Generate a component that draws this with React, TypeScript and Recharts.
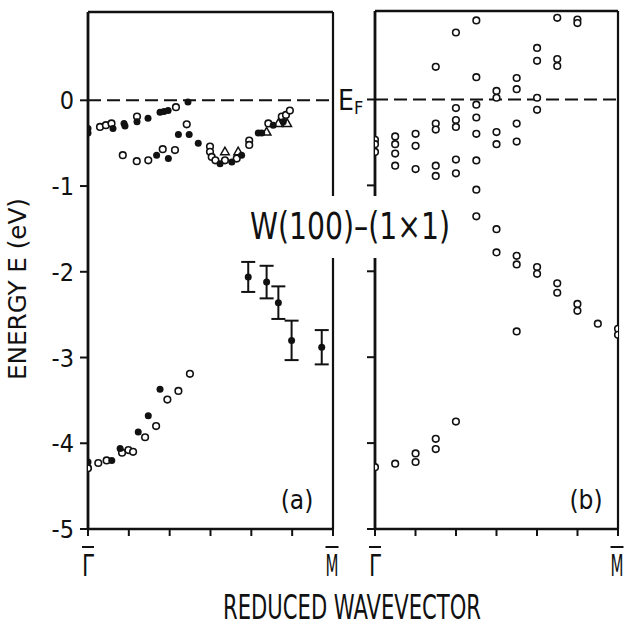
import React from "react";
import {
  ScatterChart,
  Scatter,
  XAxis,
  YAxis,
  ReferenceLine,
  ErrorBar,
} from "recharts";

// reduced wavevector k (0 = Γ̄, 1 = M̄) and energy E (eV)
type Pt = [number, number];

// panel (a) – band near E_F
const aUpperFilled: Pt[] = [
  [0, -0.33], [0, -0.38], [0.102, -0.33], [0.147, -0.27], [0.151, -0.3],
  [0.2, -0.25], [0.245, -0.21], [0.294, -0.14], [0.31, -0.13], [0.327, -0.12],
  [0.408, -0.02],
];
const aUpperOpen: Pt[] = [
  [0.049, -0.31], [0.073, -0.29], [0.096, -0.27], [0.2, -0.19], [0.359, -0.08],
];

// panel (a) – dispersive band around -0.7 eV
const aMidFilled: Pt[] = [
  [0.28, -0.64], [0.328, -0.68], [0.369, -0.4], [0.413, -0.4], [0.45, -0.5],
  [0.539, -0.74], [0.587, -0.72], [0.627, -0.64], [0.695, -0.38], [0.709, -0.38],
  [0.756, -0.29], [0.797, -0.25],
];
const aMidOpen: Pt[] = [
  [0.142, -0.64], [0.199, -0.71], [0.246, -0.7], [0.305, -0.57], [0.355, -0.58],
  [0.403, -0.28], [0.498, -0.54], [0.498, -0.6], [0.505, -0.66], [0.52, -0.7],
  [0.559, -0.7], [0.607, -0.68], [0.658, -0.47], [0.658, -0.52], [0.736, -0.27],
  [0.791, -0.19], [0.808, -0.17], [0.824, -0.12],
];
const aMidTri: Pt[] = [
  [0.559, -0.6], [0.613, -0.6], [0.729, -0.37], [0.777, -0.27], [0.813, -0.27],
];

// panel (a) – deep band
const aLowFilled: Pt[] = [
  [0, -4.22], [0.097, -4.2], [0.131, -4.06], [0.205, -3.87], [0.246, -3.68],
  [0.294, -3.37],
];
const aLowOpen: Pt[] = [
  [0, -4.29], [0.042, -4.23], [0.076, -4.2], [0.139, -4.11], [0.165, -4.08],
  [0.184, -4.1], [0.233, -3.93], [0.278, -3.8], [0.324, -3.49], [0.369, -3.39],
  [0.416, -3.19],
];

// panel (a) – points with error bars: k, E, ±err
const aErrK = [0.654, 0.729, 0.777, 0.831, 0.954];
const aErrE = [-2.06, -2.12, -2.36, -2.8, -2.88];
const aErrSize = [0.175, 0.19, 0.19, 0.23, 0.2];

// panel (b) – calculated bands, one column of energies per k
const bK = [0, 0.083, 0.167, 0.25, 0.333, 0.417, 0.5, 0.583, 0.667, 0.75, 0.833, 0.917, 1];
const bCols: number[][] = [
  [-0.47, -0.52, -0.61, -4.28],
  [-0.43, -0.52, -0.63, -0.77, -4.24],
  [-0.4, -0.54, -0.81, -4.12, -4.22],
  [0.38, -0.28, -0.35, -0.77, -0.89, -3.95, -4.07],
  [0.78, -0.1, -0.24, -0.32, -0.7, -0.86, -3.75],
  [0.92, 0.26, -0.06, -0.21, -0.4, -0.71, -1.05, -1.36],
  [0.1, 0.02, -0.38, -0.52, -1.51, -1.78],
  [0.25, 0.12, -0.28, -0.49, -1.82, -1.92, -2.7],
  [0.6, 0.45, 0.02, -0.12, -1.95, -2.03],
  [0.95, 0.47, 0.39, -2.14, -2.25],
  [0.93, 0.89, -2.38, -2.46],
  [-2.61],
  [-2.67, -2.74],
];

const X_TICKS = [0, 1 / 6, 2 / 6, 3 / 6, 4 / 6, 5 / 6, 1];
const Y_TICKS = [-5, -4, -3, -2, -1, 0];
const Y_DOMAIN: [number, number] = [-5, 1.03];

const FONT = "'DejaVu Sans Condensed', 'Liberation Sans Narrow', 'DejaVu Sans', sans-serif";
const INK = "#111";

const toRows = (pts: Pt[]) => pts.map(([k, e]) => ({ k, e }));
const errRows = aErrK.map((k, i) => ({ k, e: aErrE[i], err: aErrSize[i] }));
const bRows = bK.flatMap((k, i) => bCols[i].map((e) => ({ k, e })));

const openDot = (p: any) => (
  <circle cx={p.cx} cy={p.cy} r={3.3} fill="#fff" stroke={INK} strokeWidth={1.6} />
);
const fullDot = (p: any) => <circle cx={p.cx} cy={p.cy} r={3.5} fill={INK} />;
const triDot = (p: any) => (
  <polygon
    points={`${p.cx},${p.cy - 4.6} ${p.cx - 4.3},${p.cy + 3} ${p.cx + 4.3},${p.cy + 3}`}
    fill="#fff"
    stroke={INK}
    strokeWidth={1.5}
  />
);

// Γ̄ / M̄ under the ends of each panel; the bar is drawn as a short line
function KTick({ x, y, payload }: any) {
  const v = payload?.value;
  if (v !== 0 && v !== 1) return <g />;
  const w = v === 0 ? 12 : 13;
  const cx = v === 0 ? x : x - 1;
  return (
    <g>
      <line x1={cx - w / 2} x2={cx + w / 2} y1={y + 9} y2={y + 9} stroke={INK} strokeWidth={2} />
      <text
        x={cx}
        y={y}
        dy={38}
        textAnchor="middle"
        fontSize={30}
        fontFamily={FONT}
        fill={INK}
        textLength={w}
        lengthAdjust="spacingAndGlyphs"
      >
        {v === 0 ? "\u0393" : "M"}
      </text>
    </g>
  );
}

function ETick({ x, y, payload }: any) {
  return (
    <text x={x} y={y} dy="0.36em" textAnchor="end" fontSize={25} fontFamily={FONT} fill={INK}>
      {`${payload.value}`}
    </text>
  );
}

const axisStroke = { stroke: INK, strokeWidth: 2.4 };
const tickStroke = { stroke: INK, strokeWidth: 2 };

function Frame({ labels }: { labels: boolean }) {
  return [
    <XAxis
      key="xb"
      type="number"
      dataKey="k"
      domain={[0, 1]}
      ticks={X_TICKS}
      interval={0}
      height={50}
      tickSize={7}
      axisLine={axisStroke}
      tickLine={tickStroke}
      tick={<KTick />}
      allowDataOverflow
    />,
    <YAxis
      key="yl"
      type="number"
      dataKey="e"
      domain={Y_DOMAIN}
      ticks={Y_TICKS}
      interval={0}
      width={labels ? 60 : 30}
      tickSize={8}
      tickMargin={6}
      axisLine={{ stroke: INK, strokeWidth: 2.8 }}
      tickLine={tickStroke}
      tick={labels ? <ETick /> : () => <g />}
      allowDataOverflow
    />,
    // box: top and right edges
    <ReferenceLine key="top" y={Y_DOMAIN[1]} stroke={INK} strokeWidth={2.4} />,
    <ReferenceLine key="right" x={1} stroke={INK} strokeWidth={2.2} />,
    <ReferenceLine
      key="ef"
      y={0}
      stroke={INK}
      strokeWidth={2}
      strokeDasharray="13 6"
    />,
  ];
}

export default function App() {
  return (
    <div style={{ position: "absolute", left: 0, top: 0, width: 626, height: 626, background: "#fff" }}>
      <div style={{ position: "absolute", left: 0, top: 0 }}>
        <ScatterChart width={360} height={626} margin={{ top: 12, right: 27, bottom: 47, left: 28 }}>
          {Frame({ labels: true })}
          <Scatter data={toRows(aUpperOpen)} shape={openDot} isAnimationActive={false} />
          <Scatter data={toRows(aUpperFilled)} shape={fullDot} isAnimationActive={false} />
          <Scatter data={toRows(aMidOpen)} shape={openDot} isAnimationActive={false} />
          <Scatter data={toRows(aMidTri)} shape={triDot} isAnimationActive={false} />
          <Scatter data={toRows(aMidFilled)} shape={fullDot} isAnimationActive={false} />
          <Scatter data={toRows(aLowOpen)} shape={openDot} isAnimationActive={false} />
          <Scatter data={toRows(aLowFilled)} shape={fullDot} isAnimationActive={false} />
          <Scatter data={errRows} shape={fullDot} isAnimationActive={false}>
            <ErrorBar dataKey="err" direction="y" width={7} stroke={INK} strokeWidth={2} isAnimationActive={false} />
          </Scatter>
        </ScatterChart>
      </div>
      <div style={{ position: "absolute", left: 340, top: 0 }}>
        <ScatterChart width={286} height={626} margin={{ top: 11, right: 8, bottom: 47, left: 5 }}>
          {Frame({ labels: false })}
          <Scatter data={bRows} shape={openDot} isAnimationActive={false} />
        </ScatterChart>
      </div>
      <svg
        width={626}
        height={626}
        style={{ position: "absolute", left: 0, top: 0, pointerEvents: "none" }}
        fontFamily={FONT}
        fill={INK}
      >
        <rect x={240} y={196} width={218} height={62} fill="#fff" />
        <text x={350} y={239} fontSize={37} textAnchor="middle" textLength={200} lengthAdjust="spacingAndGlyphs">
          W(100)–(1×1)
        </text>
        <text x={338} y={110} fontSize={28}>
          E<tspan fontSize={18} dy={4}>F</tspan>
        </text>
        <text
          x={17}
          y={289}
          fontSize={25}
          textAnchor="middle"
          dominantBaseline="central"
          textLength={182}
          lengthAdjust="spacingAndGlyphs"
          transform="rotate(-90 17 289)"
        >
          ENERGY E (eV)
        </text>
        <text x={352} y={619} fontSize={34} textAnchor="middle" textLength={258} lengthAdjust="spacingAndGlyphs">
          REDUCED WAVEVECTOR
        </text>
        <text x={297} y={509} fontSize={26} textAnchor="middle">(a)</text>
        <text x={586} y={509} fontSize={26} textAnchor="middle">(b)</text>
      </svg>
    </div>
  );
}
